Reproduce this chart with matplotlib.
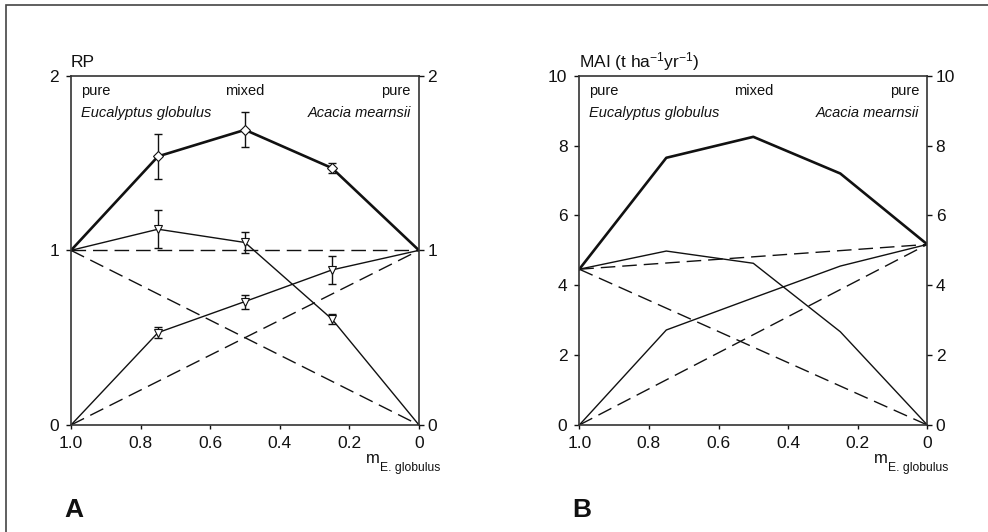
import numpy as np
import matplotlib
matplotlib.use("Agg")
import matplotlib.pyplot as plt
from matplotlib.patches import Rectangle
from matplotlib.ticker import FuncFormatter

plt.rcParams['font.family'] = ['Liberation Sans', 'DejaVu Sans']
plt.rcParams['mathtext.fontset'] = 'custom'
plt.rcParams['mathtext.rm'] = 'Liberation Sans'
plt.rcParams['mathtext.it'] = 'Liberation Sans:italic'

# proportion of E. globulus
m_eg = [1.0, 0.75, 0.5, 0.25, 0.0]

# A: relative productivity
rp_total = [1.0, 1.538, 1.69, 1.471, 1.0]
rp_total_err = [0, 0.127, 0.10, 0.03, 0]
rp_eg = [1.0, 1.121, 1.045, 0.606, 0.0]
rp_eg_err = [0, 0.11, 0.06, 0.03, 0]
rp_am = [0.0, 0.529, 0.707, 0.888, 1.0]
rp_am_err = [0, 0.03, 0.04, 0.08, 0]

# B: mean annual increment
mai_total = [4.46, 7.65, 8.25, 7.2, 5.17]
mai_eg = [4.46, 4.98, 4.63, 2.67, 0.0]
mai_am = [0.0, 2.72, 3.64, 4.55, 5.17]
mai_pure_eg = 4.46
mai_pure_am = 5.17

ink = '#111111'
dash = (0, (10.5, 5))

fig = plt.figure(figsize=(9.88, 5.32), dpi=100)
fig.patches.append(Rectangle((6 / 988, -0.5), 2, 1.5 - 5 / 532, transform=fig.transFigure,
                             fill=False, edgecolor='#444444', linewidth=1.2))

axA = fig.add_axes([71 / 988, 1 - 425 / 532, 348 / 988, 349.3 / 532])
axB = fig.add_axes([579.3 / 988, 1 - 425 / 532, 348 / 988, 349.3 / 532])


def style(ax, ylim, yticks):
    ax.set_xlim(1.0, 0.0)
    ax.set_ylim(*ylim)
    ax.set_xticks([1.0, 0.8, 0.6, 0.4, 0.2, 0.0])
    ax.xaxis.set_major_formatter(FuncFormatter(lambda v, p: '0' if v == 0 else f'{v:.1f}'))
    ax.set_yticks(yticks)
    ax.tick_params(axis='x', direction='out', length=3, width=1, pad=5, labelsize=12.5, colors=ink)
    ax.tick_params(axis='y', direction='out', length=3.5, width=1, pad=5, labelsize=12.5, colors=ink)
    for s in ax.spines.values():
        s.set_linewidth(1.2)
        s.set_color('#333333')
    tw = ax.twinx()
    tw.set_ylim(*ylim)
    tw.set_yticks(yticks)
    tw.tick_params(axis='y', direction='out', length=3.5, width=1, pad=2.5, labelsize=12.5, colors=ink)
    for s in tw.spines.values():
        s.set_visible(False)
    ax.text(0.029, 0.956, 'pure', transform=ax.transAxes, ha='left', va='center', fontsize=10.5, color=ink)
    ax.text(0.5, 0.956, 'mixed', transform=ax.transAxes, ha='center', va='center', fontsize=10.5, color=ink)
    ax.text(0.976, 0.956, 'pure', transform=ax.transAxes, ha='right', va='center', fontsize=10.5, color=ink)
    ax.text(0.029, 0.8925, 'Eucalyptus globulus', transform=ax.transAxes, ha='left', va='center',
            fontsize=10.5, style='italic', color=ink)
    ax.text(0.976, 0.8925, 'Acacia mearnsii', transform=ax.transAxes, ha='right', va='center',
            fontsize=10.5, style='italic', color=ink)
    sub = ax.text(1.06, -0.132, 'E. globulus', transform=ax.transAxes, ha='right',
                  va='baseline', fontsize=8.7, color=ink)
    ax.annotate('m', xy=(0, 0), xycoords=sub, xytext=(0, 8.3), textcoords='offset points',
                ha='right', va='baseline', fontsize=12, color=ink)


# panel A
style(axA, (0, 2), [0, 1, 2])
axA.plot([1.0, 0.0], [1.0, 1.0], color=ink, lw=1.0, ls=dash)
axA.plot([1.0, 0.0], [1.0, 0.0], color=ink, lw=1.0, ls=dash)
axA.plot([1.0, 0.0], [0.0, 1.0], color=ink, lw=1.0, ls=dash)
axA.errorbar(m_eg[1:4], rp_eg[1:4], yerr=rp_eg_err[1:4], fmt='none', ecolor=ink, elinewidth=1, capsize=3)
axA.errorbar(m_eg[1:4], rp_am[1:4], yerr=rp_am_err[1:4], fmt='none', ecolor=ink, elinewidth=1, capsize=3)
axA.errorbar(m_eg[1:4], rp_total[1:4], yerr=rp_total_err[1:4], fmt='none', ecolor=ink, elinewidth=1, capsize=3)
axA.plot(m_eg, rp_eg, color=ink, lw=1.0)
axA.plot(m_eg, rp_am, color=ink, lw=1.0)
axA.plot(m_eg, rp_total, color=ink, lw=1.9)
axA.plot(m_eg[1:4], rp_eg[1:4], ls='none', marker='v', ms=6, mfc='white', mec=ink, mew=0.8, zorder=5)
axA.plot(m_eg[1:4], rp_am[1:4], ls='none', marker='v', ms=6, mfc='white', mec=ink, mew=0.8, zorder=5)
axA.plot(m_eg[1:4], rp_total[1:4], ls='none', marker='D', ms=5, mfc='white', mec=ink, mew=0.8, zorder=5)
axA.text(0.0, 1.025, 'RP', transform=axA.transAxes, ha='left', va='baseline', fontsize=12.5, color=ink)

# panel B
style(axB, (0, 10), [0, 2, 4, 6, 8, 10])
axB.plot([1.0, 0.0], [mai_pure_eg, mai_pure_am], color=ink, lw=1.0, ls=dash)
axB.plot([1.0, 0.0], [mai_pure_eg, 0.0], color=ink, lw=1.0, ls=dash)
axB.plot([1.0, 0.0], [0.0, mai_pure_am], color=ink, lw=1.0, ls=dash)
axB.plot(m_eg, mai_eg, color=ink, lw=1.0)
axB.plot(m_eg, mai_am, color=ink, lw=1.0)
axB.plot(m_eg, mai_total, color=ink, lw=1.9)
axB.text(0.0, 1.025, r'MAI (t ha$^{-1}$yr$^{-1}$)', transform=axB.transAxes, ha='left', va='baseline',
         fontsize=12.5, color=ink)

fig.text(64 / 988, 1 - 517 / 532, 'A', fontsize=19, fontweight='bold', ha='left', va='baseline', color=ink)
fig.text(572 / 988, 1 - 517 / 532, 'B', fontsize=19, fontweight='bold', ha='left', va='baseline', color=ink)

fig.savefig('out.png', dpi=100)
